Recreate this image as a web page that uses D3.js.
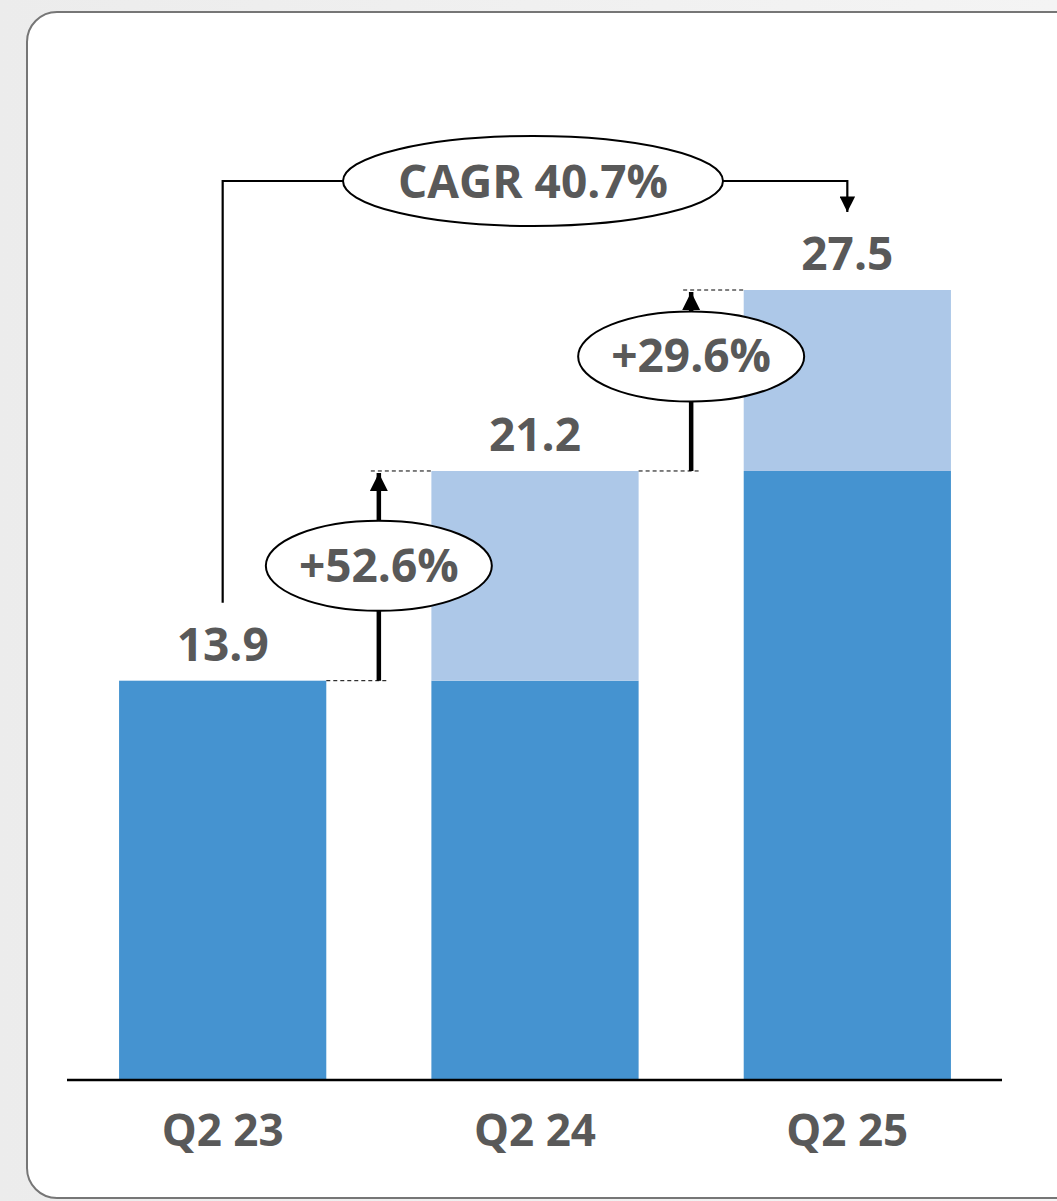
<!DOCTYPE html>
<html>
<head>
<meta charset="utf-8">
<script src="https://cdn.jsdelivr.net/npm/d3@7"></script>
<style>
  html, body { margin: 0; padding: 0; background: #f1f1f1; }
  svg { display: block; }
  text { font-family: "Open Sans", Lato, sans-serif; font-weight: 700; fill: #595959; }
</style>
</head>
<body>
<script>
// Quarterly totals and their split into prior-year level and increment
const categories = ["Q2 23", "Q2 24", "Q2 25"];
const totals = [13.9, 21.2, 27.5];
const baseValues = [13.9, 13.9, 21.2];
const increments = [0, 7.3, 6.3];
const totalLabels = ["13.9", "21.2", "27.5"];
const growthLabels = ["+52.6%", "+29.6%"];
const cagrLabel = "CAGR 40.7%";

const W = 1057, H = 1201;
const svg = d3.select("body").append("svg").attr("width", W).attr("height", H);

// soft backdrop and the rounded card
const defs = svg.append("defs");
const bg = defs.append("linearGradient").attr("id", "bg").attr("x1", 0).attr("y1", 0).attr("x2", 1).attr("y2", 0);
bg.append("stop").attr("offset", 0).attr("stop-color", "#ececec");
bg.append("stop").attr("offset", 1).attr("stop-color", "#f4f4f4");
svg.append("rect").attr("width", W).attr("height", H).attr("fill", "url(#bg)");
svg.append("rect").attr("x", 27).attr("y", 12).attr("width", 1100).attr("height", 1186)
  .attr("rx", 30).attr("fill", "#fff").attr("stroke", "#767676").attr("stroke-width", 2);

defs.append("marker").attr("id", "tip").attr("viewBox", "0 0 10 10")
  .attr("refX", 10).attr("refY", 5).attr("markerWidth", 4).attr("markerHeight", 4)
  .attr("markerUnits", "strokeWidth").attr("orient", "auto")
  .append("path").attr("d", "M0,0L10,5L0,10Z").attr("fill", "#000");
defs.append("marker").attr("id", "tipThin").attr("viewBox", "0 0 10 10")
  .attr("refX", 10).attr("refY", 5).attr("markerWidth", 8).attr("markerHeight", 7)
  .attr("markerUnits", "strokeWidth").attr("orient", "auto")
  .append("path").attr("d", "M0,0L10,5L0,10Z").attr("fill", "#000");

const x = d3.scaleBand().domain(categories).range([67, 1003])
  .paddingInner(0.3365).paddingOuter(0.1667);
const y = d3.scaleLinear().domain([0, 27.5]).range([1080, 290]);

const rows = categories.map((c, i) => ({ c, base: baseValues[i], inc: increments[i], total: totals[i], label: totalLabels[i] }));

// bars: darker base, lighter increment on top
const g = svg.append("g");
g.selectAll("rect.base").data(rows).join("rect").attr("class", "base")
  .attr("x", d => x(d.c)).attr("width", x.bandwidth())
  .attr("y", d => y(d.base)).attr("height", d => y(0) - y(d.base))
  .attr("fill", "#4593d0");
g.selectAll("rect.inc").data(rows.filter(d => d.inc > 0)).join("rect").attr("class", "inc")
  .attr("x", d => x(d.c)).attr("width", x.bandwidth())
  .attr("y", d => y(d.base + d.inc)).attr("height", d => y(d.base) - y(d.base + d.inc))
  .attr("fill", "#adc8e8");

// baseline axis with category labels
const axis = svg.append("g").attr("transform", `translate(0,${y(0)})`)
  .call(d3.axisBottom(x).tickSize(0).tickPadding(0));
axis.select(".domain").attr("d", "M67,0H1002").attr("stroke", "#000").attr("stroke-width", 2.5);
axis.selectAll(".tick text").attr("y", 66).attr("dy", null)
  .style("font-size", "44px").style("font-family", "'Open Sans', Lato, sans-serif")
  .style("font-weight", 700).attr("fill", "#595959");

// total labels above bars
svg.selectAll("text.total").data(rows).join("text").attr("class", "total")
  .attr("x", d => x(d.c) + x.bandwidth() / 2)
  .attr("y", d => y(d.total) - 20)
  .attr("text-anchor", "middle").style("font-size", "46px").text(d => d.label);

// year-over-year growth arrows between neighbouring bars
const ann = svg.append("g");
function growth(i, label, lift) {
  const from = totals[i], to = totals[i + 1];
  const ax = x(categories[i]) + x.bandwidth() + (x.step() - x.bandwidth()) / 2;
  const y0 = y(from), y1 = y(to);
  const cy = (y0 + y1) / 2 - lift;
  // dashed guide lines at both levels
  ann.append("line").attr("x1", x(categories[i]) + x.bandwidth()).attr("x2", ax + 10)
    .attr("y1", y0).attr("y2", y0).attr("stroke", "#000").attr("stroke-width", 1).attr("stroke-dasharray", "4,3");
  ann.append("line").attr("x1", ax - 8).attr("x2", x(categories[i + 1]))
    .attr("y1", y1).attr("y2", y1).attr("stroke", "#000").attr("stroke-width", 1).attr("stroke-dasharray", "4,3");
  ann.append("line").attr("x1", ax).attr("x2", ax).attr("y1", y0).attr("y2", y1 + 2)
    .attr("stroke", "#000").attr("stroke-width", 4.5).attr("marker-end", "url(#tip)");
  ann.append("ellipse").attr("cx", ax).attr("cy", cy).attr("rx", 113).attr("ry", 45)
    .attr("fill", "#fff").attr("stroke", "#000").attr("stroke-width", 2);
  ann.append("text").attr("x", ax).attr("y", cy + 16).attr("text-anchor", "middle")
    .style("font-size", "46px").text(label);
}
growth(0, growthLabels[0], 10);
growth(1, growthLabels[1], 24);

// compound growth bracket across the whole period
const cx0 = x(categories[0]) + x.bandwidth() / 2;
const cx2 = x(categories[2]) + x.bandwidth() / 2;
const cTop = 181;
ann.append("path")
  .attr("d", `M${cx0},${y(totals[0]) - 78}V${cTop}H${cx2}V${y(totals[2]) - 78}`)
  .attr("fill", "none").attr("stroke", "#000").attr("stroke-width", 2.2).attr("marker-end", "url(#tipThin)");
ann.append("ellipse").attr("cx", 533).attr("cy", cTop).attr("rx", 190).attr("ry", 45)
  .attr("fill", "#fff").attr("stroke", "#000").attr("stroke-width", 2);
ann.append("text").attr("x", 533).attr("y", cTop + 17).attr("text-anchor", "middle")
  .style("font-size", "46px").text(cagrLabel);
</script>
</body>
</html>
